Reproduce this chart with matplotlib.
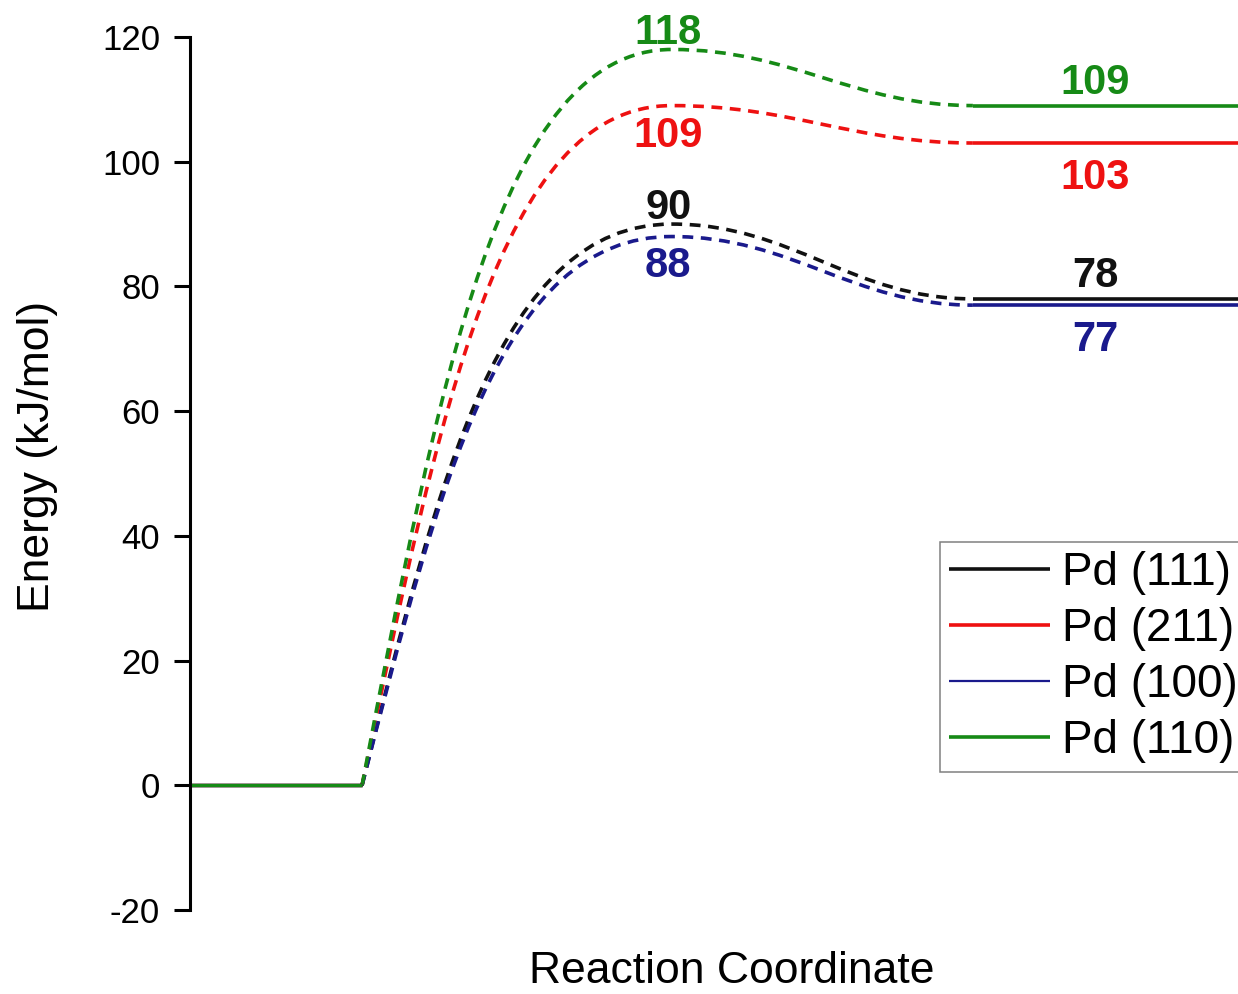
import matplotlib
matplotlib.use('Agg')
import matplotlib.pyplot as plt
from matplotlib.path import Path
from matplotlib.patches import PathPatch

plt.rcParams['font.family'] = ['Liberation Sans', 'DejaVu Sans']
plt.rcParams['axes.unicode_minus'] = False

# energy profile data (kJ/mol)
surfaces = ['Pd (111)', 'Pd (211)', 'Pd (100)', 'Pd (110)']
colors = ['#111111', '#ee1111', '#1a1a8c', '#168a16']
initial = [0, 0, 0, 0]
barrier = [90, 109, 88, 118]
final = [78, 103, 77, 109]
# label above (+1) or below (-1) the level
ts_side = [1, -1, -1, 1]
fs_side = [1, -1, -1, 1]

# reaction coordinate positions of the states
x_is = (0.0, 1.0)
x_ts = 2.8
x_fs = (4.55, 6.3)

fig = plt.figure(figsize=(12.38, 9.94), dpi=100)
ax = fig.add_axes([190 / 1238, 84 / 994, 1084 / 1238, 873 / 994])

handles = []
for name, c, e0, ets, efs, s1, s2 in zip(surfaces, colors, initial, barrier,
                                          final, ts_side, fs_side):
    ax.plot(x_is, [e0, e0], color=c, lw=2.4, solid_capstyle='butt')
    ln, = ax.plot(x_fs, [efs, efs], color=c, lw=2.6, solid_capstyle='butt',
                  label=name)
    handles.append(ln)
    # smooth dashed connection IS -> TS -> FS
    x0 = x_is[1]
    x1 = x_fs[0]
    verts = [(x0, e0),
             (x0 + 0.45, e0 + 0.55 * (ets - e0)), (x0 + 0.8, ets), (x_ts, ets),
             (x_ts + 0.7, ets), (x1 - 0.7, efs), (x1, efs)]
    codes = [Path.MOVETO] + [Path.CURVE4] * 6
    ax.add_patch(PathPatch(Path(verts, codes), fill=False, edgecolor=c,
                           lw=2.6, linestyle=(0, (3.0, 2.1))))
    ty = ets + (2.6 if s1 > 0 else -4.8)
    fy = efs + (3.6 if s2 > 0 else -5.6)
    ax.text(x_ts - 0.02, ty, str(ets), color=c, fontsize=30,
            fontweight='bold', ha='center', va='center')
    ax.text(5.26, fy, str(efs), color=c, fontsize=30,
            fontweight='bold', ha='center', va='center')

ax.set_xlim(0, 6.3)
ax.set_ylim(-20, 120)
ax.set_yticks(range(-20, 121, 20))
for side in ['top', 'right', 'bottom']:
    ax.spines[side].set_visible(False)
ax.spines['left'].set_linewidth(2.2)
ax.tick_params(axis='y', direction='out', length=11.5, width=2.2,
               labelsize=25, pad=10)
ax.set_xticks([])

ax.set_ylabel('Energy (kJ/mol)', fontsize=32, va='center')
ax.yaxis.set_label_coords(-0.141, 0.519)
ax.set_xlabel('Reaction Coordinate', fontsize=32, va='center')
ax.xaxis.set_label_coords(0.5, -0.071)

leg = ax.legend(handles=handles, loc='upper left',
                bbox_to_anchor=(940 / 1238, 1 - 542 / 994),
                bbox_transform=fig.transFigure, borderaxespad=0,
                fontsize=33, handlelength=2.2, handletextpad=0.26,
                labelspacing=0.26, borderpad=0.2, fancybox=False,
                framealpha=1)
leg.get_frame().set_edgecolor('#808080')
leg.get_frame().set_linewidth(1.1)
leg.get_lines()[2].set_linewidth(1.6)

fig.savefig('out.png', dpi=100)
